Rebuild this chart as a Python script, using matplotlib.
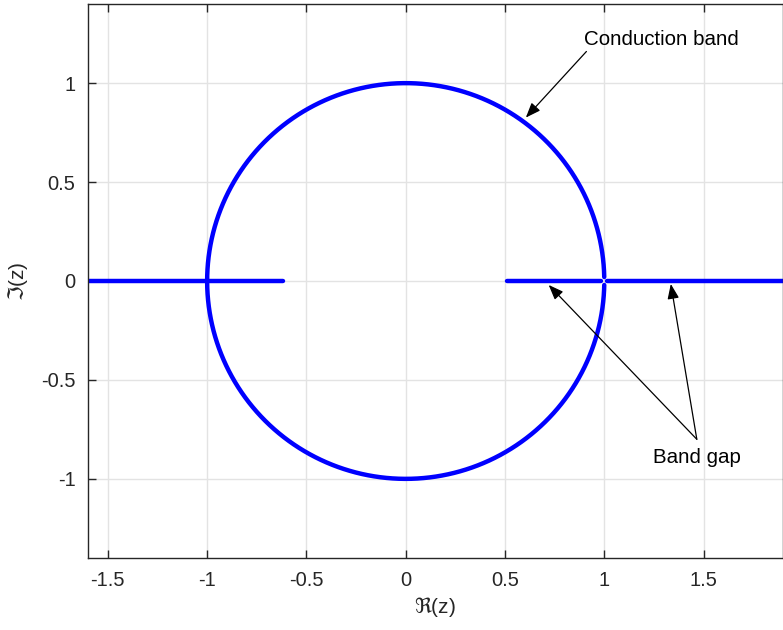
import numpy as np
import matplotlib
matplotlib.use("Agg")
import matplotlib.pyplot as plt
from matplotlib.ticker import FuncFormatter

plt.rcParams['font.family'] = ['Liberation Sans', 'DejaVu Sans']
plt.rcParams['mathtext.fontset'] = 'dejavusans'
plt.rcParams['axes.unicode_minus'] = False

# data
# conduction band: unit circle (small break near z = 1)
theta_start = 0.02
theta_end = 2 * np.pi - 0.02
radius = 1.0
# band gap: segments on the real axis
gap_segments = [(-1.6, -0.62), (0.51, 0.985), (1.015, 1.9)]

xticks = [-1.5, -1, -0.5, 0, 0.5, 1, 1.5]
yticks = [-1, -0.5, 0, 0.5, 1]

blue = (0, 0, 1)
dark = '#262626'

fig = plt.figure(figsize=(7.83, 6.3), dpi=100)
ax = fig.add_axes([88 / 783, 1 - 558 / 630, 695 / 783, 554 / 630])

th = np.linspace(theta_start, theta_end, 800)
ax.plot(radius * np.cos(th), radius * np.sin(th), color=blue, lw=3.2,
        solid_capstyle='round')
for x0, x1 in gap_segments:
    ax.plot([x0, x1], [0, 0], color=blue, lw=3.2, solid_capstyle='round')

ax.set_xlim(-1.6, 1.9)
ax.set_ylim(-1.4, 1.4)
ax.set_xticks(xticks)
ax.set_yticks(yticks)
fmt = FuncFormatter(lambda v, p: '%g' % v)
ax.xaxis.set_major_formatter(fmt)
ax.yaxis.set_major_formatter(fmt)

ax.grid(True, color='#e3e3e3', lw=1)
ax.set_axisbelow(True)
ax.tick_params(direction='in', length=6, width=1, colors=dark,
               labelsize=14.5, top=True, right=False, pad=9)
for s in ax.spines.values():
    s.set_color(dark)
    s.set_linewidth(1)

ax.set_xlabel(r'$\Re$(z)', fontsize=15, color=dark, labelpad=4)
ax.set_ylabel(r'$\Im$(z)', fontsize=15, color=dark, labelpad=8)

arrow = dict(arrowstyle='-|>,head_length=0.9,head_width=0.35', color='black',
             lw=0.9, shrinkA=0, shrinkB=0)
ax.annotate('', xy=(0.605, 0.826), xytext=(0.91, 1.16), arrowprops=arrow)
ax.text(0.9, 1.22, 'Conduction band', fontsize=14.8, ha='left', va='center')
ax.annotate('', xy=(0.72, -0.02), xytext=(1.466, -0.80), arrowprops=arrow)
ax.annotate('', xy=(1.335, -0.015), xytext=(1.466, -0.80), arrowprops=arrow)
ax.text(1.466, -0.89, 'Band gap', fontsize=14.8, ha='center', va='center')

fig.savefig('out.png', dpi=100)
